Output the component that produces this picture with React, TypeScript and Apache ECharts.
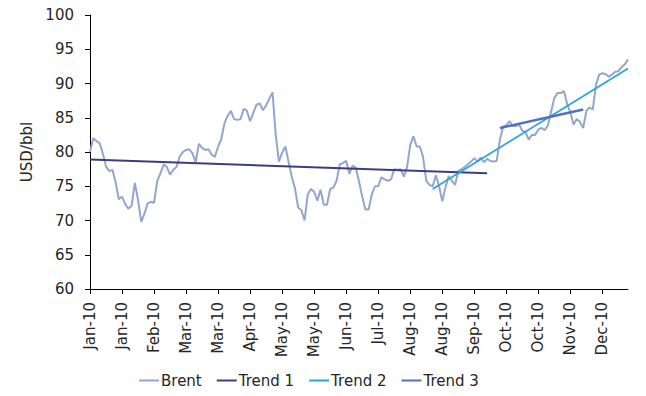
import React, { useEffect, useRef } from "react";
import * as echarts from "echarts";

const tickLabels = [
  "Jan-10", "Jan-10", "Feb-10", "Mar-10", "Mar-10", "Apr-10", "May-10", "May-10", "Jun-10",
  "Jul-10", "Aug-10", "Aug-10", "Sep-10", "Oct-10", "Oct-10", "Nov-10", "Dec-10",
];
const labelEvery = 10;

const brent = [
  80.0, 82.0, 81.6, 81.3, 79.8, 77.9, 77.2, 77.4, 75.6, 73.1,
  73.5, 72.4, 71.7, 72.2, 75.5, 73.0, 69.8, 71.0, 72.5, 72.7,
  72.6, 75.8, 76.9, 78.2, 77.8, 76.7, 77.4, 77.8, 79.3, 80.0,
  80.3, 80.4, 79.8, 78.5, 81.2, 80.6, 80.3, 80.4, 79.6, 79.3,
  80.8, 81.9, 84.2, 85.3, 86.0, 84.8, 84.7, 84.8, 86.3, 86.0,
  84.5, 85.7, 86.9, 87.1, 86.1, 86.8, 87.8, 88.7, 82.5, 78.6,
  79.9, 80.8, 78.6, 76.4, 74.7, 71.9, 71.5, 70.0, 73.8, 74.6,
  74.2, 72.9, 74.5, 72.3, 72.3, 74.6, 74.8, 75.8, 78.2, 78.4,
  78.7, 76.8, 78.0, 77.7, 75.7, 73.5, 71.6, 71.6, 73.8, 75.0,
  75.0, 76.3, 76.0, 75.8, 76.0, 77.5, 77.4, 77.5, 76.4, 77.8,
  81.0, 82.3, 80.8, 80.8, 79.3, 75.8, 75.2, 75.0, 76.6, 75.0,
  72.8, 74.8, 76.5, 75.8, 75.2, 77.2, 77.5, 77.8, 78.2, 78.6,
  79.1, 78.6, 79.2, 78.5, 79.0, 78.7, 78.6, 78.7, 81.8, 83.7,
  83.9, 84.5, 83.8, 83.8, 84.0, 83.1, 82.9, 81.8, 82.5, 82.5,
  83.3, 83.5, 83.2, 83.9, 85.9, 87.9, 88.6, 88.6, 88.9, 87.0,
  85.8, 84.0, 84.8, 84.4, 83.5, 86.0, 86.5, 86.2, 89.8, 91.3,
  91.5, 91.4, 91.0, 91.3, 91.7, 91.8, 92.4, 92.8, 93.5,
];

// trend lines: [category index, value]
const trend1 = [[0, 78.9], [124, 76.9]];
const trend2 = [[107, 74.6], [168, 92.2]];
const trend3 = [[128, 83.5], [154, 86.2]];

const categories = brent.map((_, i) => String(i));

const FONT = "DejaVu Sans";
const TEXT = "#262626";
const FS = 15;

export default function App() {
  const ref = useRef<HTMLDivElement>(null);
  useEffect(() => {
    if (!ref.current) return;
    const chart = echarts.init(ref.current, undefined, { renderer: "svg" });
    chart.setOption({
      animation: false,
      backgroundColor: "#ffffff",
      grid: { left: 90, right: 18, top: 15, bottom: 107, containLabel: false },
      legend: {
        bottom: 3,
        left: 134,
        icon: "rect",
        itemWidth: 20,
        itemHeight: 2,
        itemGap: 15,
        textStyle: { fontFamily: FONT, fontSize: FS, color: TEXT, padding: [0, 0, 0, -3] },
        data: ["Brent", "Trend 1", "Trend 2", "Trend 3"],
      },
      xAxis: {
        type: "category",
        data: categories,
        boundaryGap: false,
        axisLine: { lineStyle: { color: "#000", width: 1 } },
        axisTick: { show: true, interval: labelEvery - 1, length: 5, lineStyle: { color: "#000" } },
        axisLabel: {
          interval: labelEvery - 1,
          rotate: 90,
          margin: 13,
          fontFamily: FONT,
          fontSize: FS,
          color: TEXT,
          formatter: (_v: string, idx: number) =>
            idx % labelEvery === 0 ? tickLabels[idx / labelEvery] ?? "" : "",
        },
        splitLine: { show: false },
      },
      yAxis: {
        type: "value",
        min: 60,
        max: 100,
        interval: 5,
        name: "USD/bbl",
        nameLocation: "middle",
        nameGap: 53,
        nameTextStyle: { fontFamily: FONT, fontSize: FS, color: TEXT },
        axisLine: { show: true, lineStyle: { color: "#000", width: 1 } },
        axisTick: { show: true, length: 5, lineStyle: { color: "#000" } },
        axisLabel: { margin: 16, fontFamily: FONT, fontSize: FS, color: TEXT },
        splitLine: { show: false },
      },
      series: [
        {
          name: "Brent",
          type: "line",
          data: brent,
          symbol: "none",
          lineStyle: { color: "#93A6CE", width: 2 },
          itemStyle: { color: "#93A6CE" },
        },
        {
          name: "Trend 1",
          type: "line",
          data: trend1,
          symbol: "none",
          lineStyle: { color: "#3E3D7C", width: 2 },
          itemStyle: { color: "#3E3D7C" },
        },
        {
          name: "Trend 2",
          type: "line",
          data: trend2,
          symbol: "none",
          lineStyle: { color: "#2BA4DC", width: 1.8 },
          itemStyle: { color: "#2BA4DC" },
        },
        {
          name: "Trend 3",
          type: "line",
          data: trend3,
          symbol: "none",
          lineStyle: { color: "#5372BD", width: 2.5 },
          itemStyle: { color: "#5372BD" },
        },
      ],
    });
    return () => chart.dispose();
  }, []);
  return <div ref={ref} style={{ width: 646, height: 396, position: "absolute", left: 0, top: 0 }} />;
}
